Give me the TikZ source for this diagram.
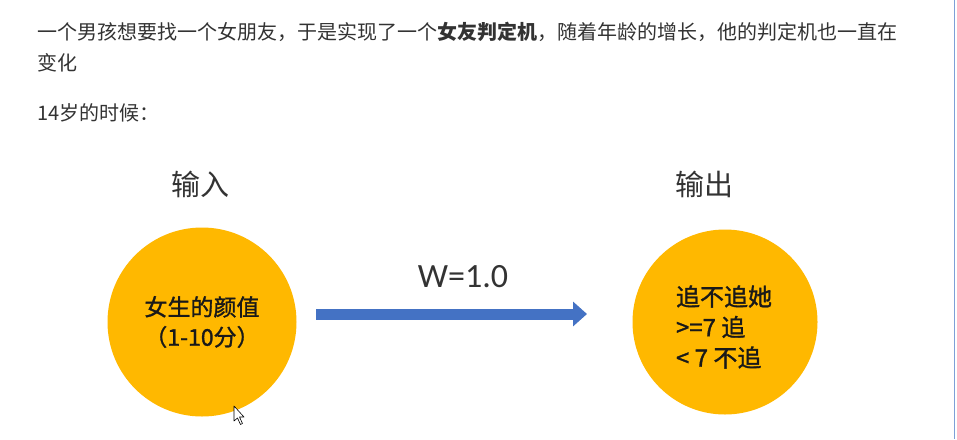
\documentclass[tikz,border=0pt]{standalone}
\usepackage{fontspec}
\newfontfamily\cjk{Noto Sans CJK SC}
\newfontfamily\cjkm{Noto Sans CJK SC}[FakeBold=1.3]
\newfontfamily\calib{Carlito}
\usetikzlibrary{arrows.meta}
\definecolor{gold}{RGB}{255,184,0}
\definecolor{arrowblue}{RGB}{68,114,196}
\definecolor{txt}{RGB}{51,51,51}
\definecolor{edgeblue}{RGB}{125,160,215}
\tikzset{
  para/.style={anchor=west,inner sep=0pt,text=txt,font=\cjk\fontsize{20pt}{24pt}\selectfont},
  head/.style={inner sep=0pt,text=txt,font=\cjk\fontsize{29pt}{34pt}\selectfont},
  ball/.style={circle,fill=gold,draw=none,minimum size=189pt,inner sep=0pt},
  ctext/.style={inner sep=0pt,text=black!90,font=\cjkm\fontsize{23pt}{30pt}\selectfont},
  weight/.style={inner sep=0pt,text=txt,font=\calib\fontsize{34pt}{40pt}\selectfont}
}
\begin{document}
\begin{tikzpicture}[x=1pt,y=-1pt]
\fill[white] (0,0) rectangle (957,439);
\useasboundingbox (0,0) rectangle (957,439);
\draw[edgeblue,line width=1.5pt] (954.5,0) -- (954.5,439);
\node[para] (l1) at (37,32) {一个男孩想要找一个女朋友，于是实现了一个{\bfseries 女友判定机}，随着年龄的增长，他的判定机也一直在};
\node[para] (l2) at (37,63) {变化};
\node[para] (l3) at (37,113) {14岁的时候：};
\node[head] (in) at (200,184) {输入};
\node[head] (out) at (704,184) {输出};
\node[ball] (c1) at (202,322) {};
\node[ball,minimum size=185pt] (c2) at (725,322) {};
\node[ctext,align=center] (t1) at (c1) {女生的颜值\\（1-10分）};
\node[ctext,align=left,font=\cjkm\fontsize{24pt}{30.5pt}\selectfont] (t2) at (724,327) {追不追她\\>=7 追\\< 7 不追};
\node[weight] (w) at (463,277) {W=1.0};
\coordinate (as) at (316,314);
\coordinate (ae) at (587,314);
\draw[arrowblue,line width=11pt,-{Triangle[length=14pt,width=24pt]}] (as) -- (ae);
\draw[black,fill=white,line width=0.6pt,line join=round] (234,406) -- (234,421) -- (237.5,418) -- (240.5,424.5) -- (242.5,423.5) -- (239.5,417) -- (244,417) -- cycle;
\end{tikzpicture}
\end{document}
